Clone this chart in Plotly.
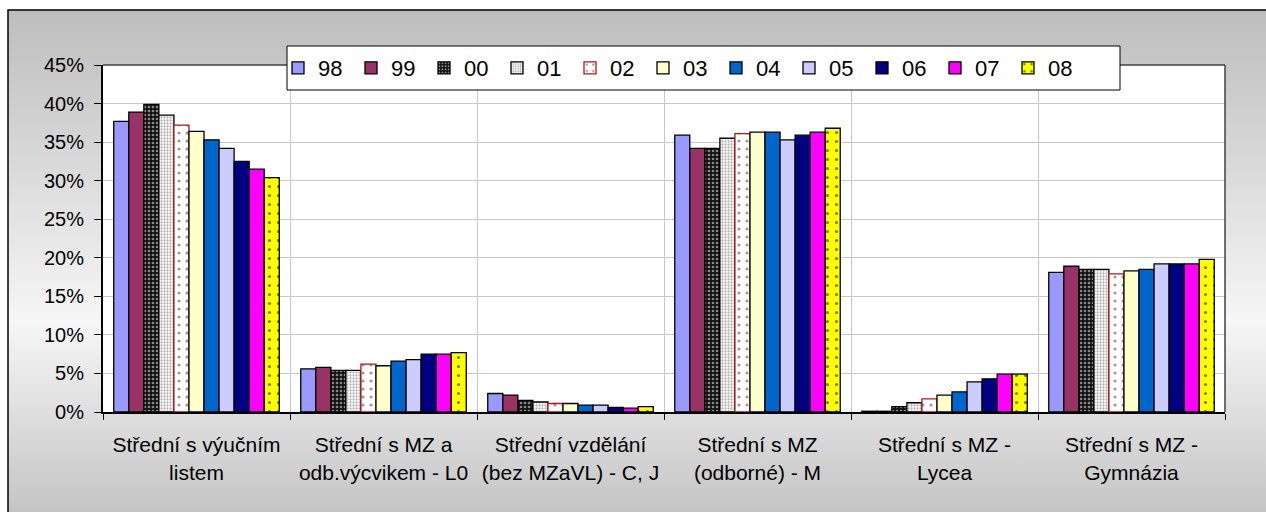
import base64
import plotly.graph_objects as go

categories = [
    "Střední s výučním<br>listem",
    "Střední s MZ a<br>odb.výcvikem - L0",
    "Střední vzdělání<br>(bez MZaVL) - C, J",
    "Střední s MZ<br>(odborné) - M",
    "Střední s MZ -<br>Lycea",
    "Střední s MZ -<br>Gymnázia",
]
years = ["98", "99", "00", "01", "02", "03", "04", "05", "06", "07", "08"]

s98 = [37.7, 5.6, 2.4, 35.9, 0.1, 18.1]
s99 = [38.9, 5.8, 2.2, 34.2, 0.1, 18.9]
s00 = [39.9, 5.4, 1.5, 34.2, 0.7, 18.5]
s01 = [38.5, 5.4, 1.3, 35.5, 1.2, 18.5]
s02 = [37.2, 6.2, 1.1, 36.1, 1.7, 17.9]
s03 = [36.4, 6.0, 1.1, 36.3, 2.2, 18.3]
s04 = [35.3, 6.6, 0.9, 36.3, 2.6, 18.5]
s05 = [34.2, 6.8, 0.9, 35.3, 3.9, 19.2]
s06 = [32.5, 7.5, 0.6, 35.9, 4.3, 19.2]
s07 = [31.5, 7.5, 0.5, 36.3, 4.9, 19.2]
s08 = [30.4, 7.7, 0.7, 36.8, 4.9, 19.8]
series = [s98, s99, s00, s01, s02, s03, s04, s05, s06, s07, s08]

fill_colors = ["#9999FF", "#993366", "#111111", "#ffffff", "#ffffff", "#FFFFCC",
               "#0066CC", "#CCCCFF", "#000080", "#FF00FF", "#FFFF00"]
line_colors = ["#000000"] * 11
line_colors[4] = "#B01818"
patterns = [None, None,
            dict(shape=".", fgcolor="#ffffff", size=4, solidity=0.35, fillmode="overlay"),
            dict(shape=".", fgcolor="#666666", size=3, solidity=0.45, fillmode="overlay"),
            dict(shape=".", fgcolor="#333333", size=8, solidity=0.12, fillmode="overlay"),
            None, None, None, None, None,
            dict(shape=".", fgcolor="#000000", size=9, solidity=0.1, fillmode="overlay")]

FONT = "Liberation Sans, Arial, sans-serif"
W, H = 1266, 512
L, R, T, B = 103, 1225, 65, 412


def px(x):
    return (x - L) / (R - L)


def py(y):
    return (B - y) / (B - T)


fig = go.Figure()
for name, vals, fc, lc, pat in zip(years, series, fill_colors, line_colors, patterns):
    marker = dict(color=fc, line=dict(color=lc, width=1.3))
    if pat:
        marker["pattern"] = pat
    fig.add_trace(go.Bar(name=name, x=categories, y=vals, marker=marker))

svg = ('<svg xmlns="http://www.w3.org/2000/svg" width="100" height="100" viewBox="0 0 100 100" '
       'preserveAspectRatio="none"><defs><linearGradient id="g" x1="0" y1="0" x2="0" y2="1">'
       '<stop offset="0" stop-color="#bdbdbd"/><stop offset="0.6" stop-color="#f6f6f6"/>'
       '<stop offset="1" stop-color="#c0c0c0"/></linearGradient></defs>'
       '<rect width="100" height="100" fill="url(#g)"/></svg>')
src = "data:image/svg+xml;base64," + base64.b64encode(svg.encode()).decode()

fig.update_layout(
    width=W, height=H,
    margin=dict(l=L, r=W - R, t=T, b=H - B, pad=0),
    paper_bgcolor="white",
    plot_bgcolor="rgba(0,0,0,0)",
    barmode="group", bargap=0.115, bargroupgap=0,
    font=dict(family=FONT, size=20, color="black"),
    images=[dict(source=src, xref="paper", yref="paper", x=px(8), y=py(10),
                 sizex=px(1280) - px(8), sizey=py(10) - py(530), xanchor="left",
                 yanchor="top", sizing="stretch", layer="below")],
    shapes=[
        dict(type="rect", xref="paper", yref="paper", x0=0, x1=1, y0=0, y1=1,
             fillcolor="white", line=dict(width=0), layer="below"),
        dict(type="rect", xref="paper", yref="paper", x0=px(8), x1=px(1285), y0=py(10), y1=py(535),
             line=dict(color="black", width=1.5), fillcolor="rgba(0,0,0,0)", layer="below"),
        dict(type="line", xref="paper", yref="paper", x0=0, x1=1, y0=1, y1=1,
             line=dict(color="#404040", width=1.5), layer="above"),
        dict(type="line", xref="paper", yref="paper", x0=1, x1=1, y0=0, y1=1,
             line=dict(color="#404040", width=1.5), layer="above"),
        dict(type="rect", xref="paper", yref="paper", x0=px(287), x1=px(1120), y0=py(90), y1=py(46),
             fillcolor="white", line=dict(color="black", width=1), layer="above"),
    ],
    legend=dict(orientation="h", x=px(278), xanchor="left", y=py(68), yanchor="middle",
                font=dict(family=FONT, size=22, color="black"), bgcolor="rgba(0,0,0,0)",
                borderwidth=0, entrywidth=28, entrywidthmode="pixels", itemwidth=30,
                traceorder="normal"),
    xaxis=dict(type="category", tickson="boundaries", ticks="outside", ticklen=6,
               tickcolor="black", showline=True, linecolor="black", linewidth=2,
               showgrid=True, gridcolor="#c8c8c8", gridwidth=1, ticklabelstandoff=13,
               tickfont=dict(family=FONT, size=21, color="black")),
    yaxis=dict(range=[0, 45], dtick=5, ticksuffix="%", ticks="outside", ticklen=7,
               tickcolor="black", showline=True, linecolor="black", linewidth=2,
               showgrid=True, gridcolor="#c8c8c8", gridwidth=1, zeroline=False,
               ticklabelstandoff=6,
               tickfont=dict(family=FONT, size=20, color="black")),
)

fig.write_html("out.html", config={"displayModeBar": False},
               post_script="document.body.style.margin='0';document.body.style.overflow='hidden';")
